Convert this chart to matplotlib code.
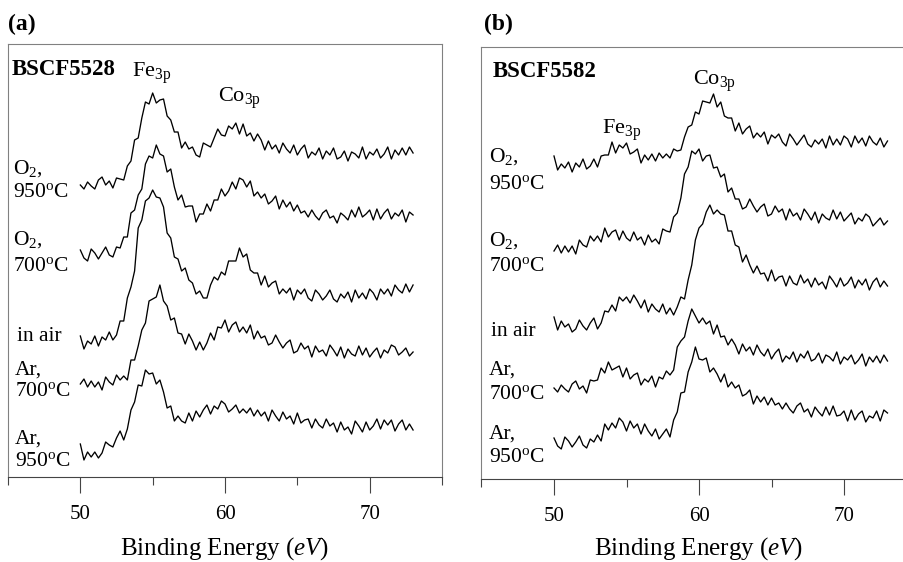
import numpy as np
import matplotlib.pyplot as plt
from matplotlib.ticker import FixedLocator

plt.rcParams['font.family'] = ['Liberation Serif', 'DejaVu Serif']
plt.rcParams['mathtext.fontset'] = 'custom'
plt.rcParams['mathtext.rm'] = 'Liberation Serif'
plt.rcParams['mathtext.it'] = 'Liberation Serif:italic'
plt.rcParams['mathtext.bf'] = 'Liberation Serif:bold'

# binding energy grid (eV), 0.25 eV steps from 50 to 73
energy = np.linspace(50, 73, 93)

# panel (a): BSCF5528, intensity (arb. units) above each trace's start
a_o2_950 = [2, -2, 5, 1, -2, 7, 10, 2, 6, -1, 9, 8, 7, 21, 26, 47, 49, 69, 85, 83,
            94, 84, 87, 88, 71, 67, 55, 55, 39, 45, 38, 40, 32, 30, 44, 42, 40, 49, 58, 52,
            51, 61, 58, 64, 53, 63, 51, 54, 46, 53, 47, 37, 46, 38, 42, 34, 44, 38, 34, 42,
            32, 38, 42, 29, 35, 32, 39, 28, 36, 32, 39, 28, 30, 36, 26, 35, 33, 29, 40, 28,
            35, 32, 38, 29, 33, 40, 28, 37, 32, 39, 32, 40, 34]
a_o2_700 = [5, -3, -6, 6, 2, -4, 2, 8, 0, -2, 8, 7, 18, 18, 42, 45, 60, 66, 91, 99,
            97, 110, 101, 99, 83, 86, 68, 55, 60, 48, 49, 49, 33, 41, 41, 51, 44, 55, 55, 66,
            59, 64, 73, 66, 77, 75, 68, 74, 59, 63, 57, 61, 51, 54, 59, 46, 55, 48, 53, 44,
            50, 42, 44, 38, 45, 39, 35, 42, 45, 37, 39, 32, 42, 39, 35, 45, 38, 48, 38, 41,
            45, 35, 46, 36, 42, 46, 36, 42, 39, 45, 33, 43, 40]
a_air = [7, -6, 2, -1, 7, -3, 6, 3, 11, 3, 8, 22, 22, 45, 56, 72, 115, 123, 142, 145,
         153, 146, 145, 136, 110, 105, 86, 84, 72, 75, 63, 60, 49, 52, 45, 45, 58, 66, 63, 71,
         68, 82, 82, 82, 95, 86, 89, 73, 70, 70, 58, 67, 56, 60, 62, 49, 54, 50, 55, 43,
         53, 49, 54, 45, 42, 53, 49, 43, 47, 53, 44, 41, 49, 45, 51, 41, 53, 45, 50, 44,
         54, 50, 43, 54, 49, 54, 47, 58, 53, 50, 59, 51, 58]
a_ar_700 = [1, 6, -2, 4, -2, 3, -5, 8, 3, 0, 10, 5, 9, 5, 25, 25, 39, 55, 62, 84,
            86, 88, 100, 84, 79, 65, 67, 52, 51, 41, 51, 44, 35, 43, 35, 42, 52, 45, 58, 57,
            65, 53, 60, 63, 53, 58, 52, 60, 46, 54, 47, 49, 40, 42, 50, 43, 37, 42, 45, 32,
            34, 42, 36, 39, 28, 39, 33, 35, 29, 40, 35, 29, 38, 27, 36, 31, 29, 39, 30, 37,
            28, 33, 37, 27, 35, 32, 40, 38, 30, 33, 37, 29, 33]
a_ar_950 = [6, -10, -2, -7, -2, -8, -3, 8, 5, 3, 12, 19, 10, 21, 40, 48, 65, 64, 80, 76,
            77, 66, 70, 58, 42, 44, 29, 34, 29, 27, 37, 29, 39, 33, 40, 45, 36, 44, 41, 49,
            46, 38, 41, 45, 37, 41, 37, 42, 34, 40, 34, 38, 29, 40, 34, 29, 38, 31, 34, 26,
            37, 27, 30, 31, 22, 31, 25, 22, 31, 24, 27, 18, 28, 20, 23, 16, 29, 24, 18, 28,
            20, 24, 31, 21, 30, 25, 30, 19, 26, 30, 20, 26, 20]

# panel (b): BSCF5582
b_o2_950 = [7, -7, -1, -5, 1, -9, 0, -4, 4, -6, -3, 4, -4, 7, 8, 8, 21, 10, 18, 15,
            20, 9, 11, 14, 0, 8, 3, 9, 2, 10, 5, 9, 5, 14, 12, 13, 26, 36, 38, 51,
            49, 62, 61, 60, 69, 56, 61, 47, 45, 45, 32, 40, 29, 34, 37, 25, 30, 26, 31, 19,
            28, 25, 29, 21, 17, 29, 24, 18, 23, 28, 19, 16, 23, 19, 24, 15, 27, 18, 24, 18,
            27, 24, 16, 27, 20, 25, 17, 27, 21, 18, 25, 16, 22]
b_o2_700 = [-1, 5, -3, 4, -2, 4, -4, 10, 5, 3, 14, 9, 14, 8, 22, 13, 18, 20, 10, 19,
            12, 9, 18, 10, 13, 5, 15, 8, 11, 6, 21, 19, 18, 33, 37, 52, 76, 83, 99, 96,
            101, 89, 94, 95, 82, 83, 73, 76, 58, 62, 51, 51, 41, 43, 51, 44, 38, 43, 46, 34,
            36, 44, 38, 41, 30, 41, 34, 37, 30, 41, 36, 30, 38, 27, 36, 32, 30, 40, 31, 38,
            29, 33, 37, 26, 32, 29, 36, 33, 24, 28, 32, 25, 29]
b_air = [6, -7, 2, -4, -1, -9, -6, 3, -3, -7, 0, 5, -6, 0, 12, 11, 18, 12, 26, 22,
         26, 20, 28, 22, 15, 23, 11, 19, 14, 11, 19, 9, 15, 8, 16, 26, 24, 43, 58, 83,
         95, 99, 111, 118, 109, 113, 109, 108, 92, 92, 78, 76, 61, 68, 58, 50, 57, 49, 50, 42,
         53, 42, 46, 47, 37, 47, 40, 38, 48, 40, 44, 36, 45, 38, 41, 34, 47, 42, 36, 45,
         37, 40, 46, 35, 43, 38, 44, 33, 41, 45, 36, 42, 37]
b_ar_700 = [2, -2, 5, 1, -2, 6, 9, 1, 4, -3, 10, 9, 10, 22, 17, 28, 20, 22, 24, 13,
            22, 11, 15, 17, 5, 11, 8, 14, 3, 13, 11, 19, 15, 20, 43, 49, 53, 69, 81, 74,
            67, 72, 66, 69, 56, 65, 53, 54, 45, 51, 45, 36, 46, 39, 43, 35, 45, 38, 34, 41,
            31, 37, 41, 28, 34, 31, 38, 28, 36, 32, 39, 29, 31, 37, 27, 35, 33, 29, 38, 26,
            33, 30, 35, 26, 30, 36, 24, 33, 28, 34, 27, 35, 29]
b_ar_950 = [5, -3, -6, 6, 2, -4, 1, 7, -2, -5, 4, 1, 8, 2, 19, 13, 20, 15, 25, 21,
            12, 22, 15, 19, 9, 19, 12, 7, 14, 4, 9, 14, 6, 23, 31, 50, 51, 71, 81, 96,
            84, 83, 85, 71, 75, 69, 61, 69, 56, 61, 55, 58, 47, 49, 53, 39, 47, 41, 46, 38,
            45, 38, 40, 34, 40, 34, 30, 37, 40, 31, 34, 26, 36, 31, 27, 36, 28, 37, 27, 28,
            32, 22, 33, 23, 29, 32, 21, 27, 25, 32, 22, 33, 30]

conditions = [("O$_2$,", "950$^{\\rm o}$C"), ("O$_2$,", "700$^{\\rm o}$C"),
              ("in air", None), ("Ar,", "700$^{\\rm o}$C"), ("Ar,", "950$^{\\rm o}$C")]

# vertical stacking of the traces and where the condition labels go
offsets_a = [290, 222, 134, 92, 27]
offsets_b = [316, 229, 156, 89, 36]
label_pos_a = [(45.38, 303, 280), (45.38, 232, 206), (45.6, 136, None),
               (45.45, 102, 81), (45.45, 33, 11)]
label_pos_b = [(45.53, 317, 290), (45.53, 233, 208), (45.67, 143, None),
               (45.53, 104, 80), (45.53, 40, 17)]

fig = plt.figure(figsize=(9.04, 5.62), dpi=100)
ax_a = fig.add_axes([8 / 904, 85 / 562, 434 / 904, 433 / 562])
ax_b = fig.add_axes([481.5 / 904, 83 / 562, 435 / 904, 432 / 562])


def draw_panel(ax, spectra, offsets, label_pos, ytop, labelpad):
    for y, off in zip(spectra, offsets):
        ax.plot(energy, np.array(y) + off, color='black', lw=0.95)
    for (l1, l2), (x, y1, y2) in zip(conditions, label_pos):
        ax.text(x, y1, l1, fontsize=15.5, va='baseline', ha='left')
        if l2:
            ax.text(x, y2, l2, fontsize=15.5, va='baseline', ha='left')
    ax.set_xlim(45, 75)
    ax.set_ylim(0, ytop)
    ax.set_yticks([])
    ax.xaxis.set_major_locator(FixedLocator([50, 60, 70]))
    ax.xaxis.set_minor_locator(FixedLocator([45, 55, 65, 75]))
    ax.tick_params(axis='x', which='major', length=11.5, width=0.8, color='#444444',
                   labelsize=15, pad=9)
    ax.tick_params(axis='x', which='minor', length=5.8, width=0.8, color='#444444')
    for side in ['left', 'top', 'right']:
        ax.spines[side].set_color('#808080')
        ax.spines[side].set_linewidth(0.8)
    ax.spines['bottom'].set_color('#444444')
    ax.spines['bottom'].set_linewidth(0.8)
    ax.set_xlabel('Binding Energy ($\\it{eV}$)', fontsize=18, labelpad=labelpad)


draw_panel(ax_a, [a_o2_950, a_o2_700, a_air, a_ar_700, a_ar_950],
           offsets_a, label_pos_a, 433, 7.5)
draw_panel(ax_b, [b_o2_950, b_o2_700, b_air, b_ar_700, b_ar_950],
           offsets_b, label_pos_b, 432, 6)

ax_a.text(45.0, 447, '(a)', fontsize=17, fontweight='bold', va='baseline', clip_on=False)
ax_a.text(45.25, 402, 'BSCF5528', fontsize=16.5, fontweight='bold', va='baseline')
ax_a.text(53.6, 400, 'Fe$_{\\rm 3p}$', fontsize=16, va='baseline')
ax_a.text(59.5, 375, 'Co$_{\\rm 3p}$', fontsize=16, va='baseline')

ax_b.text(45.2, 449, '(b)', fontsize=17, fontweight='bold', va='baseline', clip_on=False)
ax_b.text(45.74, 402, 'BSCF5582', fontsize=16.5, fontweight='bold', va='baseline')
ax_b.text(59.58, 394, 'Co$_{\\rm 3p}$', fontsize=16, va='baseline')
ax_b.text(53.28, 345, 'Fe$_{\\rm 3p}$', fontsize=16, va='baseline')

fig.savefig('out.png', dpi=100)
